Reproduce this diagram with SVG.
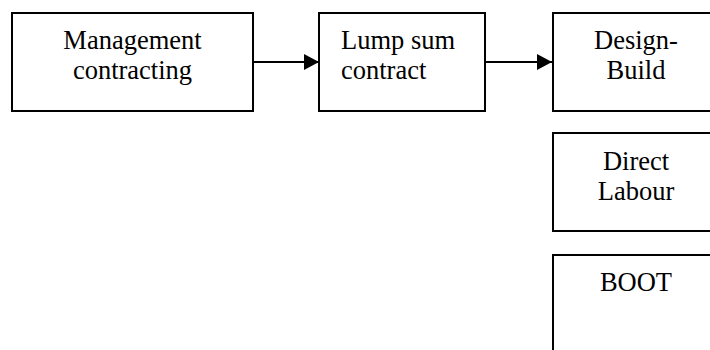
<svg xmlns="http://www.w3.org/2000/svg" width="710" height="350" viewBox="0 0 710 350">
  <style>
    .box { fill: #ffffff; stroke: #000000; stroke-width: 2; }
    .lbl { font-family: "Liberation Serif", "Times New Roman", serif; font-size: 26.5px; fill: #000000; }
    .mid { text-anchor: middle; }
    .conn { stroke: #000000; stroke-width: 2; fill: none; }
  </style>
  <defs>
    <marker id="arrow" markerUnits="userSpaceOnUse" markerWidth="16" markerHeight="16" refX="15" refY="8" orient="auto">
      <path d="M0,0 L15,8 L0,16 Z" fill="#000000"/>
    </marker>
  </defs>
  <rect width="710" height="350" fill="#ffffff"/>
  <g id="node-management">
    <rect class="box" x="12" y="13" width="241" height="98"/>
    <text class="lbl mid" x="132.5" y="49">Management</text>
    <text class="lbl mid" x="132.5" y="79">contracting</text>
  </g>
  <g id="node-lumpsum">
    <rect class="box" x="319" y="13" width="166" height="98"/>
    <text class="lbl" x="341" y="49">Lump sum</text>
    <text class="lbl" x="341" y="79">contract</text>
  </g>
  <g id="node-designbuild">
    <rect class="box" x="553" y="13" width="170" height="98"/>
    <text class="lbl mid" x="636" y="49">Design-</text>
    <text class="lbl mid" x="636" y="79">Build</text>
  </g>
  <g id="node-directlabour">
    <rect class="box" x="553" y="133" width="170" height="98"/>
    <text class="lbl mid" x="636" y="170">Direct</text>
    <text class="lbl mid" x="636" y="200">Labour</text>
  </g>
  <g id="node-boot">
    <rect class="box" x="553" y="255" width="170" height="110"/>
    <text class="lbl mid" x="636" y="291">BOOT</text>
  </g>
  <g id="connectors">
    <line class="conn" x1="253" y1="62" x2="319" y2="62" marker-end="url(#arrow)"/>
    <line class="conn" x1="485" y1="62" x2="552" y2="62" marker-end="url(#arrow)"/>
  </g>
</svg>
